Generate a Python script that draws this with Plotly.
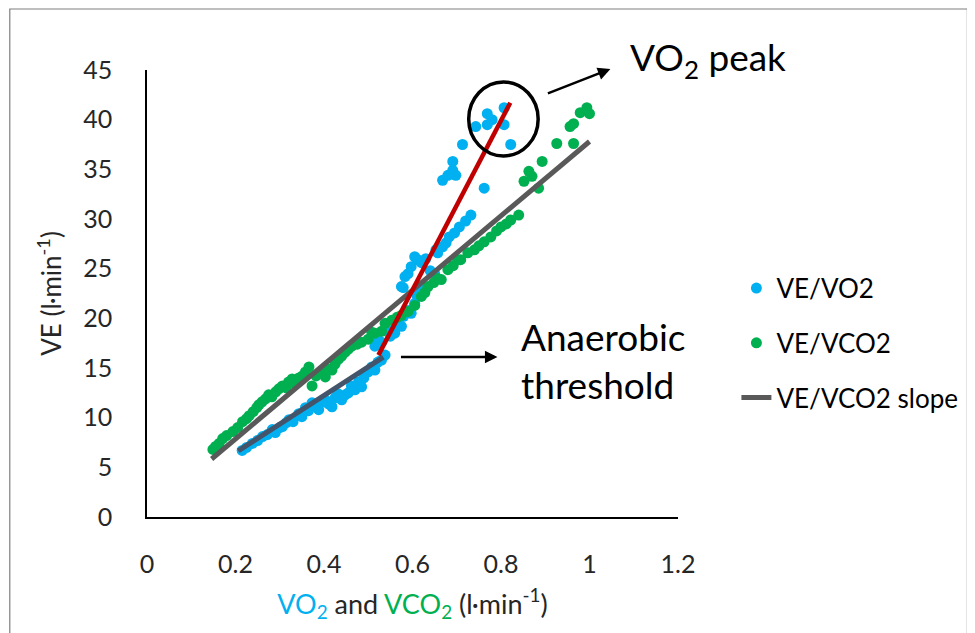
import plotly.graph_objects as go

# VE/VO2 (blue points)
vo2_x = [0.215, 0.225, 0.238, 0.25, 0.261, 0.272, 0.283, 0.29, 0.3, 0.306, 0.315, 0.321, 0.33, 0.343, 0.35,
         0.358, 0.365, 0.373, 0.38, 0.388, 0.395, 0.403, 0.41, 0.418, 0.425, 0.432, 0.44, 0.448, 0.455, 0.462,
         0.47, 0.478, 0.485, 0.49, 0.5, 0.508, 0.515, 0.522, 0.53, 0.538,
         0.515, 0.523, 0.53, 0.545, 0.55, 0.56, 0.565, 0.575, 0.58, 0.59, 0.597, 0.605, 0.61, 0.62,
         0.575, 0.579, 0.583, 0.59, 0.597, 0.605, 0.612, 0.62, 0.63, 0.64, 0.65, 0.653, 0.657, 0.668,
         0.676, 0.683, 0.695, 0.706, 0.72, 0.732, 0.762, 0.668, 0.68, 0.691, 0.698, 0.691, 0.713,
         0.743, 0.769, 0.769, 0.78, 0.807, 0.807, 0.822]
vo2_y = [6.7, 7.0, 7.4, 7.7, 8.1, 8.3, 8.8, 8.5, 9.0, 9.1, 9.5, 9.8, 9.6, 10.4, 10.1,
         11.0, 10.7, 11.5, 11.2, 10.8, 11.6, 11.8, 11.4, 11.1, 12.0, 12.4, 11.8, 12.3, 12.5, 13.2,
         12.8, 13.6, 13.1, 14.0, 14.6, 15.1, 14.8, 15.6, 15.8, 16.3,
         17.2, 17.8, 17.6, 18.8, 18.2, 18.5, 19.5, 19.2, 20.2, 20.8, 20.5, 21.5, 22.3, 22.9,
         23.2, 23.1, 24.2, 24.5, 25.2, 26.2, 25.9, 25.6, 26.0, 24.8, 24.5, 26.9, 26.6, 27.2,
         27.6, 28.2, 28.6, 29.2, 29.8, 30.4, 33.1, 33.9, 34.4, 34.9, 34.4, 35.8, 37.5,
         39.3, 40.6, 39.5, 40.0, 41.2, 39.5, 37.5]

# VE/VCO2 (green points)
vco2_x = [0.149, 0.155, 0.163, 0.171, 0.18, 0.194, 0.205, 0.216, 0.225, 0.231, 0.24, 0.248, 0.253, 0.26,
          0.268, 0.275, 0.282, 0.291, 0.298, 0.306, 0.315, 0.32, 0.328, 0.335, 0.343, 0.351, 0.358, 0.366,
          0.373, 0.382, 0.396, 0.403, 0.41, 0.418, 0.425, 0.433, 0.44, 0.448, 0.455, 0.463, 0.475, 0.485,
          0.5, 0.508, 0.515, 0.53, 0.538, 0.553, 0.565, 0.575, 0.59, 0.605, 0.62, 0.628, 0.635, 0.648,
          0.657, 0.665, 0.68, 0.692, 0.702, 0.709, 0.725, 0.74, 0.75, 0.762, 0.777, 0.79, 0.8, 0.812,
          0.822, 0.84, 0.852, 0.863, 0.87, 0.885, 0.893, 0.926, 0.964, 0.956, 0.964, 0.979, 0.994, 1.0]
vco2_y = [6.8, 7.1, 7.4, 7.9, 8.2, 8.6, 9.0, 9.6, 9.9, 10.2, 10.6, 11.0, 11.3, 11.6,
          11.9, 12.3, 12.1, 12.6, 12.9, 13.2, 13.0, 13.6, 13.9, 13.4, 14.0, 14.2, 14.6, 15.1,
          13.2, 14.2, 14.6, 14.1, 14.9, 14.8, 15.4, 15.9, 16.2, 16.6, 16.9, 17.2, 17.4, 17.6,
          17.9, 18.6, 18.5, 18.7, 19.5, 19.8, 20.1, 20.3, 20.7, 21.3, 22.2, 22.6, 23.2, 23.6,
          24.0, 23.9, 24.9, 25.3, 25.9, 25.9, 26.6, 26.9, 27.3, 27.7, 28.2, 28.8, 29.2, 29.5,
          29.9, 30.4, 33.8, 34.8, 34.3, 33.1, 35.8, 37.6, 37.6, 39.3, 39.6, 40.7, 41.2, 40.6]

# fitted lines (end points)
slope_x = [0.146, 1.0]
slope_y = [5.84, 37.8]
pre_at_x = [0.206, 0.534]
pre_at_y = [6.65, 16.1]
post_at_x = [0.523, 0.821]
post_at_y = [16.3, 41.7]

x_ticks = [0, 0.2, 0.4, 0.6, 0.8, 1, 1.2]
y_ticks = [0, 5, 10, 15, 20, 25, 30, 35, 40, 45]

FONT = "Lato"
BLUE = "#00B0F0"
GREEN = "#00B050"
TXT = "#262626"

fig = go.Figure()
fig.add_trace(go.Scatter(x=vo2_x, y=vo2_y, mode="markers", name="VE/VO2",
                         marker=dict(color=BLUE, size=11, line=dict(width=0)),
                         legendgroup="a"))
fig.add_trace(go.Scatter(x=vco2_x, y=vco2_y, mode="markers", name="VE/VCO2",
                         marker=dict(color=GREEN, size=11, line=dict(width=0)),
                         legendgroup="b"))
fig.add_trace(go.Scatter(x=pre_at_x, y=pre_at_y, mode="lines", showlegend=False,
                         line=dict(color="#44546A", width=5)))
fig.add_trace(go.Scatter(x=slope_x, y=slope_y, mode="lines", name="VE/VCO2 slope",
                         line=dict(color="#595959", width=5), legendgroup="c"))
fig.add_trace(go.Scatter(x=post_at_x, y=post_at_y, mode="lines", showlegend=False,
                         line=dict(color="#C00000", width=4.5)))

# circle around VO2 peak
fig.add_shape(type="circle", xref="x", yref="y", x0=0.727, x1=0.884, y0=36.35, y1=43.8,
              line=dict(color="black", width=3.5))

# frame around the picture
fig.add_shape(type="rect", xref="paper", yref="paper", x0=-0.2584, x1=1.545, y0=-0.3, y1=1.1365,
              line=dict(color="#7f7f7f", width=1.2), layer="below")

# VO2 peak arrow + label (paper coordinates, above the plot area)
fig.add_annotation(x=0.8727, y=1.0022, ax=-64, ay=25, xref="paper", yref="paper", text="",
                   showarrow=True, arrowhead=2, arrowsize=1, arrowwidth=2.5, arrowcolor="black")
fig.add_annotation(x=0.906, y=1.0224, xref="paper", yref="paper", text="VO<sub>2</sub> peak",
                   showarrow=False, xanchor="left", yanchor="middle",
                   font=dict(family=FONT, size=37, color="black"))
# anaerobic threshold arrow + label
fig.add_annotation(x=0.792, y=16.1, ax=-98, ay=0, xref="x", yref="y", text="",
                   showarrow=True, arrowhead=2, arrowsize=1, arrowwidth=2.5, arrowcolor="black")
fig.add_annotation(x=0.841, y=15.8, xref="x", yref="y", text="Anaerobic<br>threshold",
                   showarrow=False, xanchor="left", yanchor="middle", align="left",
                   font=dict(family=FONT, size=37, color="black"))

fig.update_layout(
    width=967, height=625,
    margin=dict(l=139, r=294, t=62, b=116),
    paper_bgcolor="white", plot_bgcolor="white",
    font=dict(family=FONT, size=24, color=TXT),
    showlegend=True,
    legend=dict(x=1.11, y=0.389, xanchor="left", yanchor="middle", traceorder="grouped",
                tracegroupgap=18, font=dict(family=FONT, size=26, color="black"),
                bgcolor="rgba(0,0,0,0)", itemwidth=30),
    xaxis=dict(range=[0, 1.2], tickvals=x_ticks, ticktext=[str(v) for v in x_ticks],
               showgrid=False, zeroline=False, showline=True, linecolor="black", linewidth=1.5,
               ticks="outside", ticklen=24, tickcolor="rgba(0,0,0,0)",
               tickfont=dict(size=25, color=TXT),
               title=dict(text='<span style="color:#00B0F0">VO<sub>2</sub></span> and '
                               '<span style="color:#00B050">VCO<sub>2</sub></span> (l·min<sup>-1</sup>)',
                          font=dict(size=27, color=TXT), standoff=18)),
    yaxis=dict(range=[0, 45], tickvals=y_ticks, showgrid=False, zeroline=False, showline=True,
               linecolor="black", linewidth=1.5,
               ticks="outside", ticklen=28, tickcolor="rgba(0,0,0,0)",
               tickfont=dict(size=25, color=TXT),
               title=dict(text="VE (l·min<sup>-1</sup>)", font=dict(size=26, color=TXT),
                          standoff=14)),
)

fig.write_html("out.html")
